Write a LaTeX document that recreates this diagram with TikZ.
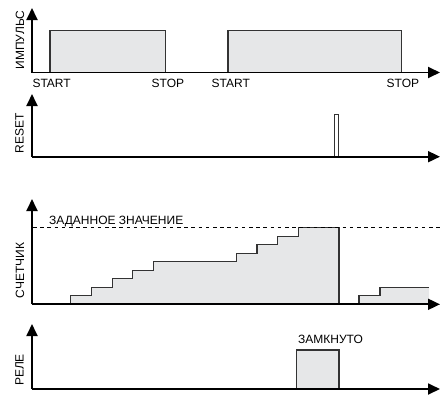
\documentclass[tikz,border=0pt]{standalone}
\usepackage{fontspec}
\setmainfont{Liberation Sans}
\usetikzlibrary{arrows.meta}
\definecolor{sigfill}{HTML}{E6E7E8}
\definecolor{sigline}{HTML}{333333}
\tikzset{
  axis/.style={line width=1.8pt, black, -{Triangle[length=12pt,width=11pt]}},
  sig/.style={line width=1.2pt, sigline, fill=sigfill, line join=miter},
  sigopen/.style={line width=1.2pt, sigline},
  lbl/.style={font=\fontsize{12}{14}\selectfont, inner sep=0pt},
  vlbl/.style={lbl, rotate=90, anchor=base},
  setline/.style={line width=1.5pt, black, dash pattern=on 3.6pt off 3.6pt}
}
\begin{document}
\begin{tikzpicture}[x=1pt,y=-1pt]
\useasboundingbox (0,0) rectangle (441,394);
% ---------- panel 1: ИМПУЛЬС ----------
\coordinate (o1) at (32,72.5);
\draw[sig] (50,72.5) rectangle (165.7,30.7);
\draw[sig] (228,72.5) rectangle (401.7,30.7);
\draw[axis] (o1) -- (440,72.5);
\draw[axis] (o1) -- (32,8);
\node[vlbl] (l1) at (24,40) {ИМПУЛЬС};
\node[lbl, anchor=base west] (s1) at (32.3,87) {START};
\node[lbl, anchor=base west] (p1) at (151.5,87) {STOP};
\node[lbl, anchor=base west] (s2) at (211.5,87) {START};
\node[lbl, anchor=base west] (p2) at (386.5,87) {STOP};
% ---------- panel 2: RESET ----------
\coordinate (o2) at (32,156.7);
\draw[line width=0.9pt, sigline, fill=white] (334.5,156.7) rectangle (338.8,114);
\draw[axis] (o2) -- (440,156.7);
\draw[axis] (o2) -- (32,94);
\node[vlbl] (l2) at (23.5,133.5) {RESET};
% ---------- panel 3: СЧЕТЧИК ----------
\coordinate (o3) at (32,304.3);
\draw[sig] (70.7,304.3) -- (70.7,295.8) -- (91.4,295.8) -- (91.4,287.3) -- (112.1,287.3)
  -- (112.1,278.8) -- (132.8,278.8) -- (132.8,270.3) -- (153.5,270.3) -- (153.5,261.7)
  -- (236.3,261.7) -- (236.3,253.2) -- (257,253.2) -- (257,244.7) -- (277.7,244.7)
  -- (277.7,236.2) -- (298.4,236.2) -- (298.4,227.7) -- (339,227.7) -- (339,304.3);
\fill[sigfill] (359,304.3) -- (359,295.8) -- (380,295.8) -- (380,287.3) -- (429,287.3) -- (429,304.3) -- cycle;
\draw[sigopen] (359,304.3) -- (359,295.8) -- (380,295.8) -- (380,287.3) -- (429,287.3);
\draw[setline] (33,227.7) -- (441,227.7);
\node[lbl, anchor=base west] (sv) at (49,224) {ЗАДАННОЕ ЗНАЧЕНИЕ};
\draw[axis] (o3) -- (440,304.3);
\draw[axis] (o3) -- (32,199);
\node[vlbl] (l3) at (24,270.5) {СЧЕТЧИК};
% ---------- panel 4: РЕЛЕ ----------
\coordinate (o4) at (32,389);
\draw[sig] (296.7,389) rectangle (339,350);
\node[lbl, anchor=base west] (cl) at (298,343.3) {ЗАМКНУТО};
\draw[axis] (o4) -- (440,389);
\draw[axis] (o4) -- (32,324);
\node[vlbl] (l4) at (23.5,370) {РЕЛЕ};
\end{tikzpicture}
\end{document}
